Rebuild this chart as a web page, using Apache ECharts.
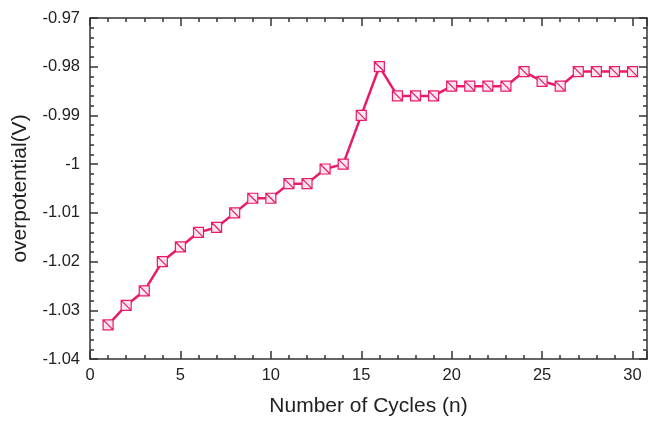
<!DOCTYPE html>
<html>
<head>
<meta charset="utf-8">
<script src="https://cdn.jsdelivr.net/npm/echarts@6/dist/echarts.min.js"></script>
<style>
  html, body { margin: 0; padding: 0; background: #fff; }
  #main { width: 651px; height: 422px; }
</style>
</head>
<body>
<div id="main"></div>
<script>
// cycles and overpotential
var cycles = [1, 2, 3, 4, 5, 6, 7, 8, 9, 10, 11, 12, 13, 14, 15,
              16, 17, 18, 19, 20, 21, 22, 23, 24, 25, 26, 27, 28, 29, 30];
var overpotential = [-1.033, -1.029, -1.026, -1.020, -1.017, -1.014, -1.013, -1.010, -1.007, -1.007,
                     -1.004, -1.004, -1.001, -1.000, -0.990, -0.980, -0.986, -0.986, -0.986, -0.984,
                     -0.984, -0.984, -0.984, -0.981, -0.983, -0.984, -0.981, -0.981, -0.981, -0.981];
var xTicks = [0, 5, 10, 15, 20, 25, 30];

var pink = "#ea1a6a";
var axisColor = "#333";
var font = "Liberation Sans, Arial, sans-serif";

var chart = echarts.init(document.getElementById("main"));

// x axes: one for big ticks + labels, one for the small ticks (every 1)
function xAx(pos, step, len, showLabel, showLine) {
  return {
    type: "value",
    position: pos,
    min: 0,
    max: 30.8,
    interval: step,
    axisLine: { show: showLine, onZero: false, lineStyle: { color: axisColor, width: 1.5 } },
    axisTick: { inside: true, length: len, lineStyle: { color: axisColor, width: 1.5 } },
    axisLabel: {
      show: showLabel,
      color: "#222",
      fontSize: 16.5,
      fontFamily: font,
      margin: 8,
      formatter: function (v) {
        return xTicks.indexOf(v) >= 0 ? String(v) : "";
      }
    },
    splitLine: { show: false }
  };
}

function yAx(pos, showLabel) {
  return {
    type: "value",
    position: pos,
    min: -1.04,
    max: -0.97,
    interval: 0.01,
    axisLine: { show: true, onZero: false, lineStyle: { color: axisColor, width: 1.5 } },
    axisTick: { inside: true, length: 8, lineStyle: { color: axisColor, width: 1.5 } },
    minorTick: { show: true, splitNumber: 5, length: 4, lineStyle: { color: axisColor, width: 1.5 } },
    axisLabel: {
      show: showLabel,
      color: "#222",
      fontSize: 16.5,
      fontFamily: font,
      margin: 10,
      formatter: function (v) {
        return String(Number(v.toFixed(2)));
      }
    },
    splitLine: { show: false }
  };
}

var xMain = xAx("bottom", 5, 8, true, true);
xMain.name = "Number of Cycles (n)";
xMain.nameLocation = "middle";
xMain.nameGap = 37;
xMain.nameTextStyle = { color: "#222", fontSize: 21, fontFamily: font };

var yMain = yAx("left", true);
yMain.name = "overpotential(V)";
yMain.nameLocation = "middle";
yMain.nameGap = 59;
yMain.nameTextStyle = { color: "#222", fontSize: 21, fontFamily: font };

var points = cycles.map(function (c, i) { return [c, overpotential[i]]; });

chart.setOption({
  animation: false,
  grid: { left: 90, right: 4, top: 18, bottom: 57 },
  xAxis: [
    xMain,
    xAx("bottom", 1, 4, false, false),
    xAx("top", 5, 8, false, true),
    xAx("top", 1, 4, false, false)
  ],
  yAxis: [yMain, yAx("right", false)],
  series: [{
    type: "line",
    data: points,
    xAxisIndex: 0,
    yAxisIndex: 0,
    symbol: "path://M0,0L10,0L10,10L0,10Z M0,0L10,10 M0,0L0,10 M10,0L10,10",
    symbolSize: 10,
    showAllSymbol: true,
    lineStyle: { color: pink, width: 2.5 },
    itemStyle: { color: "#fde6ef", borderColor: pink, borderWidth: 1.2 }
  }]
});
</script>
</body>
</html>
